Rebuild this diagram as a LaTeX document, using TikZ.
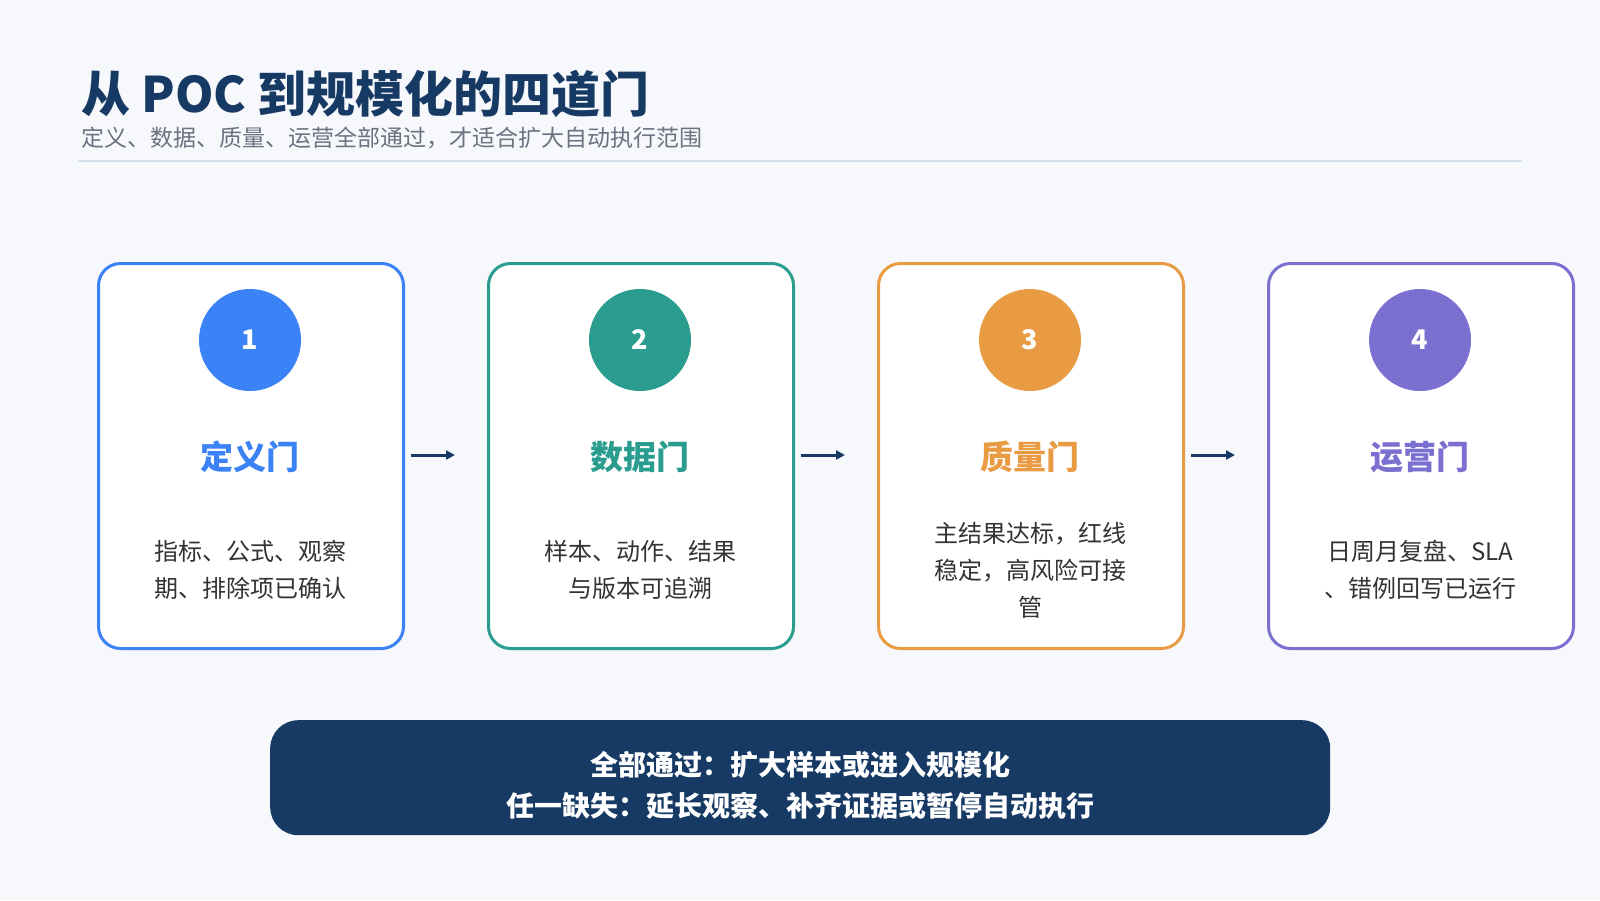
\documentclass[tikz,border=0pt]{standalone}
\usepackage{fontspec}
\setmainfont{Noto Sans CJK SC}
\usetikzlibrary{arrows.meta}
\definecolor{bg}{HTML}{F6F8FC}
\definecolor{navy}{HTML}{173A64}
\definecolor{cA}{HTML}{3B82F6}
\definecolor{cB}{HTML}{2A9D8F}
\definecolor{cC}{HTML}{E89B43}
\definecolor{cD}{HTML}{7B6FD0}
\definecolor{sub}{HTML}{6B7280}
\definecolor{rule}{HTML}{D5DEEC}
\begin{document}
\begin{tikzpicture}[x=1pt,y=-1pt,
  card/.style={draw=#1,line width=3pt,fill=white,rounded corners=22pt,minimum width=305pt,minimum height=385pt,anchor=north west,inner sep=0pt},
  num/.style={circle,fill=#1,minimum size=102pt,text=white,font=\fontsize{27}{30}\selectfont\bfseries,inner sep=0pt},
  ttl/.style={text=#1,font=\fontsize{33}{38}\selectfont\bfseries},
  desc/.style={text=black!80,font=\fontsize{24}{37}\selectfont,align=center,text width=230pt},
  arr/.style={line width=3pt,draw=navy,-{Triangle[length=9pt,width=9pt]}}]
\fill[bg] (0,0) rectangle (1600,900);
\useasboundingbox (0,0) rectangle (1600,900);
\node[anchor=west,text=navy,font=\fontsize{49}{55}\selectfont\bfseries] (title) at (78,94) {从 POC 到规模化的四道门};
\node[anchor=west,text=sub,font=\fontsize{23}{26}\selectfont] (subt) at (78,138) {定义、数据、质量、运营全部通过，才适合扩大自动执行范围};
\draw[rule,line width=2pt] (78,161) -- (1522,161);
\foreach \i/\c/\n/\t in {0/cA/1/定义门,1/cB/2/数据门,2/cC/3/质量门,3/cD/4/运营门}{
  \node[card=\c] (card\n) at (97+390*\i,262) {};
  \node[num=\c] (num\n) at (250+390*\i,340) {\n};
  \node[ttl=\c] (ttl\n) at (250+390*\i,457) {\t};
}
\node[desc] (d1) at (250,570) {指标、公式、观察\\期、排除项已确认};
\node[desc] (d2) at (640,570) {样本、动作、结果\\与版本可追溯};
\node[desc] (d3) at (1030,570) {主结果达标，红线\\稳定，高风险可接\\管};
\node[desc] (d4) at (1420,570) {日周月复盘、SLA\\、错例回写已运行};
\foreach \a/\b in {1/2,2/3,3/4}{
  \draw[arr] ([xshift=6pt]card\a.east |- 0,455) -- ([xshift=-32pt]card\b.west |- 0,455);
}
\node[fill=navy,rounded corners=28pt,minimum width=1060pt,minimum height=115pt,anchor=north west] (bot) at (270,720) {};
\node[text=white,font=\fontsize{28}{41}\selectfont\bfseries,align=center] (bt) at (800,785) {全部通过：扩大样本或进入规模化\\任一缺失：延长观察、补齐证据或暂停自动执行};
\end{tikzpicture}
\end{document}
